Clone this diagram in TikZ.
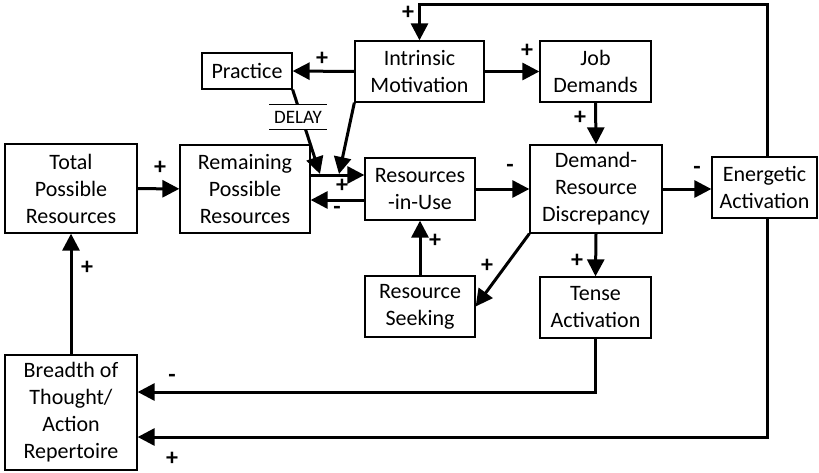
\documentclass[tikz,border=0pt]{standalone}
\usepackage{amsmath}
\usepackage{fontspec}
\setmainfont{Carlito}
\usetikzlibrary{arrows.meta}

\begin{document}
\begin{tikzpicture}[x=1pt,y=-1pt,
		box/.style={draw,line width=1.3pt,inner sep=0pt,align=center,font=\fontsize{22}{27}\selectfont},
		arr/.style={line width=3pt,-{Triangle[length=17pt,width=17pt]}},
		sgn/.style={font=\fontsize{24}{24}\selectfont\bfseries,inner sep=0pt,text height=0.6em,text depth=0pt}]
		\useasboundingbox (0,0) rectangle (819,472);
		% boxes
		\node[box,minimum width=132pt,minimum height=89pt] (tot) at (71,188.5) {Total\\Possible\\Resources};
		\node[box,minimum width=130pt,minimum height=88pt] (rem) at (245,189) {Remaining\\Possible\\Resources};
		\node[box,minimum width=90pt,minimum height=36pt] (prac) at (247,71) {Practice};
		\node[box,minimum width=129pt,minimum height=61pt] (intr) at (419.5,71.5) {Intrinsic\\Motivation};
		\node[box,minimum width=111pt,minimum height=61pt] (job) at (595.5,71.5) {Job\\Demands};
		\node[box,minimum width=110pt,minimum height=62pt] (riu) at (420,189) {Resources\\-in-Use};
		\node[box,minimum width=132pt,minimum height=88pt] (drd) at (596,189) {Demand-\\Resource\\Discrepancy};
		\node[box,minimum width=105pt,minimum height=61pt] (ener) at (764.5,187.5) {Energetic\\Activation};
		\node[box,minimum width=110pt,minimum height=61pt] (seek) at (420,306.5) {Resource\\Seeking};
		\node[box,minimum width=111pt,minimum height=61pt] (tense) at (595.5,307.5) {Tense\\Activation};
		\node[box,minimum width=132pt,minimum height=115pt] (brd) at (71,412.5) {Breadth of\\Thought/\\Action\\Repertoire};
		% free ends of the two slanted arrows
		\coordinate (d1) at (320,174);
		\coordinate (d2) at (339,174);
		% connectors
		\draw[arr] (tot) -- (rem);
		\draw[arr] ([yshift=14pt]rem.east) -- ([yshift=14pt]riu.west);
		\draw[arr] ([yshift=-11pt]riu.west) -- ([yshift=-11pt]rem.east);
		\draw[arr] (prac.south east) -- (d1);
		\draw[arr] (intr.south west) -- (d2);
		\draw[arr] (intr.west) -- (prac.east);
		\draw[arr] (intr.east) -- (job.west);
		\draw[arr] (job.south) -- (drd.north);
		\draw[arr] (riu.east) -- (drd.west);
		\draw[arr] (drd.east) -- (drd.east -| ener.west);
		\draw[arr] (drd.south west) -- (seek.east);
		\draw[arr] (drd.south) -- (tense.north);
		\draw[arr] (seek.north) -- (riu.south);
		\draw[arr] (brd.north) -- (tot.south);
		\draw[arr] (tense.south) |- ([yshift=20.5pt]brd.east);
		\draw[arr] ([xshift=2.5pt]ener.south) |- ([yshift=-24.5pt]brd.east);
		\draw[arr] ([xshift=2.5pt]ener.north) |- ([yshift=36pt]intr.north) -- (intr.north);
		% delay mark
		\node[fill=white,inner sep=0pt,minimum width=57pt,minimum height=24pt,font=\fontsize{19}{19}\selectfont] (dly) at (298,117) {DELAY};
		\draw[line width=1.3pt] (dly.north west) -- (dly.north east) (dly.south west) -- (dly.south east);
		% polarities
		\node[sgn] (p1) at (160,171) {+};
		\node[sgn] (p2) at (342,189) {+};
		\node[sgn] (m1) at (337,211) {-};
		\node[sgn] (p3) at (322,62) {+};
		\node[sgn] (p4) at (527,54) {+};
		\node[sgn] (p5) at (580,121) {+};
		\node[sgn] (m2) at (510,169) {-};
		\node[sgn] (m3) at (697,171) {-};
		\node[sgn] (p6) at (487,269) {+};
		\node[sgn] (p7) at (577,264) {+};
		\node[sgn] (p8) at (435,244) {+};
		\node[sgn] (p9) at (87,271) {+};
		\node[sgn] (m4) at (172,379) {-};
		\node[sgn] (p10) at (172,462) {+};
		\node[sgn] (p11) at (408,16) {+};
	\end{tikzpicture}
\end{document}
